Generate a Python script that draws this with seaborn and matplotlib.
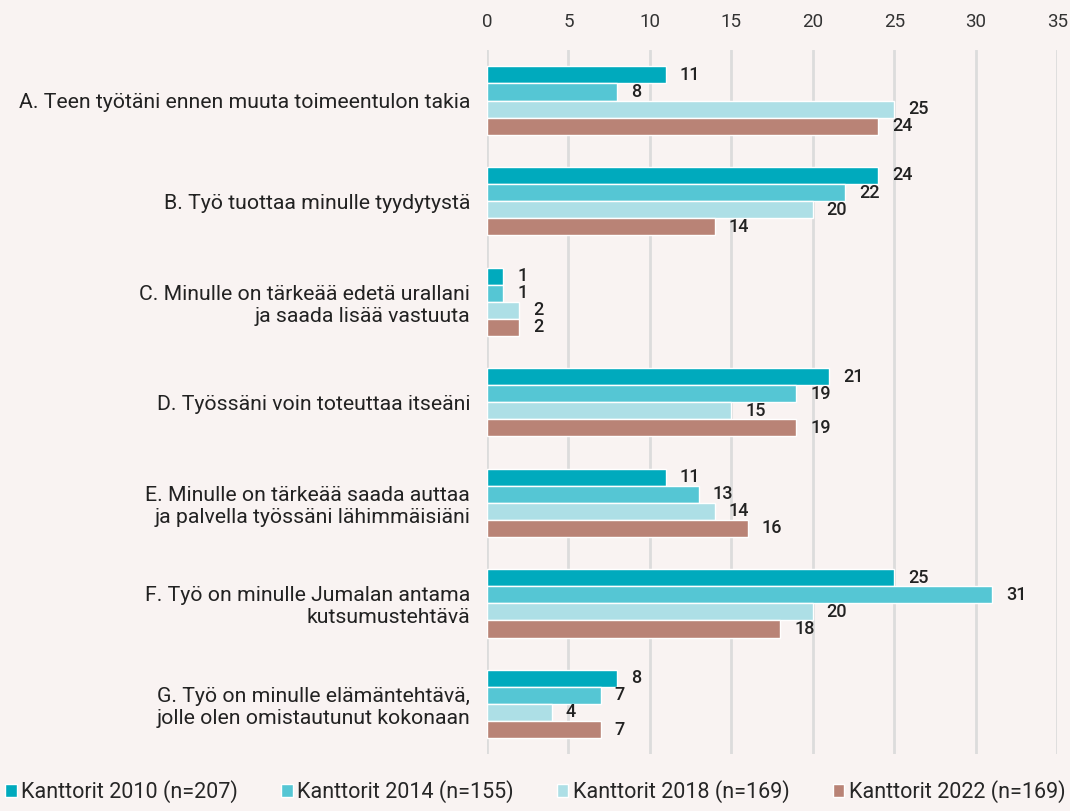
import seaborn as sb
import pandas as pd
import matplotlib.pyplot as plt

# statements and the four survey rounds
statements = [
    "A. Teen työtäni ennen muuta toimeentulon takia",
    "B. Työ tuottaa minulle tyydytystä",
    "C. Minulle on tärkeää edetä urallani\nja saada lisää vastuuta",
    "D. Työssäni voin toteuttaa itseäni",
    "E. Minulle on tärkeää saada auttaa\nja palvella työssäni lähimmäisiäni",
    "F. Työ on minulle Jumalan antama\nkutsumustehtävä",
    "G. Työ on minulle elämäntehtävä,\njolle olen omistautunut kokonaan",
]
years = ["Kanttorit 2010 (n=207)", "Kanttorit 2014 (n=155)",
         "Kanttorit 2018 (n=169)", "Kanttorit 2022 (n=169)"]
v2010 = [11, 24, 1, 21, 11, 25, 8]
v2014 = [8, 22, 1, 19, 13, 31, 7]
v2018 = [25, 20, 2, 15, 14, 20, 4]
v2022 = [24, 14, 2, 19, 16, 18, 7]
colors = ["#00aabd", "#55c6d4", "#addfe6", "#b98376"]

rows = []
for year, vals in zip(years, [v2010, v2014, v2018, v2022]):
    for s, v in zip(statements, vals):
        rows.append({"statement": s, "year": year, "value": v})
df = pd.DataFrame(rows)

bg = "#f9f3f2"
sb.set_style("white")
plt.rcParams['font.family'] = ['Roboto', 'DejaVu Sans']

fig, ax = plt.subplots(figsize=(10.7, 8.11), dpi=100)
fig.patch.set_facecolor(bg)
ax.set_facecolor(bg)
fig.subplots_adjust(left=0.455, right=0.988, top=0.938, bottom=0.07)

sb.barplot(data=df, y="statement", x="value", hue="year", orient="h",
           palette=colors, width=0.68, saturation=1, ax=ax, legend=True)

for cont in ax.containers:
    ax.bar_label(cont, padding=10, fontsize=13, fontweight="medium", color="#222222")

ax.set_xlim(0, 35)
ax.set_xticks(range(0, 36, 5))
ax.xaxis.tick_top()
ax.tick_params(axis="x", length=0, labelsize=13.5, colors="#333333", pad=14)
ax.tick_params(axis="y", length=0, labelsize=15.3, colors="#222222", pad=12)
ax.grid(axis="x", color="#dcdcdc", linewidth=2)
ax.set_axisbelow(True)
for sp in ax.spines.values():
    sp.set_visible(False)
ax.set_xlabel("")
ax.set_ylabel("")

handles, labels = ax.get_legend_handles_labels()
ax.get_legend().remove()
fig.legend(handles, labels, loc="lower center", ncol=4, frameon=False,
           bbox_to_anchor=(0.5, -0.014), fontsize=15.5, handlelength=0.55,
           handleheight=0.55, handletextpad=0.2, columnspacing=2.0)

plt.savefig("out.png", dpi=100, facecolor=bg)
